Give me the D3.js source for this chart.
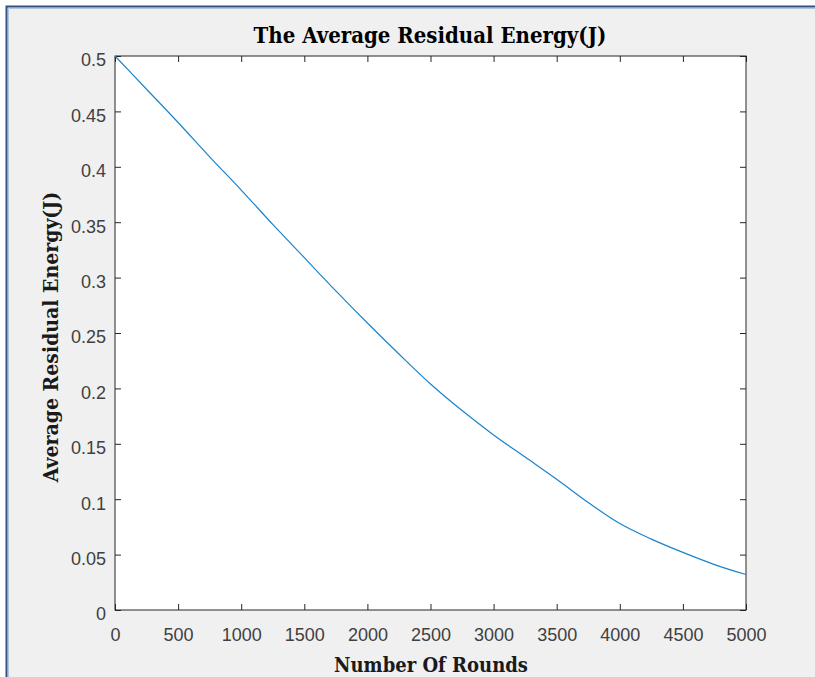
<!DOCTYPE html>
<html>
<head>
<meta charset="utf-8">
<script src="https://cdn.jsdelivr.net/npm/d3@7"></script>
<style>
  body { margin: 0; background: #fff; }
  svg { display: block; }
</style>
</head>
<body>
<div id="chart"></div>
<script>
// data
const rounds = [0, 250, 500, 750, 1000, 1250, 1500, 1750, 2000, 2250, 2500,
  2750, 3000, 3250, 3500, 3750, 4000, 4250, 4500, 4750, 5000];
const energy = [0.5, 0.470, 0.440, 0.409, 0.379, 0.348, 0.318, 0.288, 0.259, 0.231, 0.204,
  0.180, 0.158, 0.138, 0.118, 0.097, 0.078, 0.064, 0.052, 0.041, 0.032];
const xTicks = [0, 500, 1000, 1500, 2000, 2500, 3000, 3500, 4000, 4500, 5000];
const yTicks = [0, 0.05, 0.1, 0.15, 0.2, 0.25, 0.3, 0.35, 0.4, 0.45, 0.5];

const W = 815, H = 677;
const m = {left: 115, top: 56, right: 746, bottom: 610};

const svg = d3.select('#chart').append('svg').attr('width', W).attr('height', H);

// figure background + window frame
svg.append('rect').attr('x', 6).attr('y', 6).attr('width', W - 6).attr('height', H - 6)
  .attr('fill', '#f0f0f0');
svg.append('path').attr('d', `M6.5,${H} V6.5 H${W}`)
  .attr('fill', 'none').attr('stroke', '#2f5283').attr('stroke-width', 2);
svg.append('path').attr('d', `M8.5,${H} V8.5 H${W}`)
  .attr('fill', 'none').attr('stroke', '#b4c4d8').attr('stroke-width', 1);

const x = d3.scaleLinear().domain([0, 5000]).range([m.left, m.right]);
const y = d3.scaleLinear().domain([0, 0.5]).range([m.bottom, m.top]);

svg.append('rect').attr('x', m.left).attr('y', m.top)
  .attr('width', m.right - m.left).attr('height', m.bottom - m.top).attr('fill', '#fff');

const axColor = '#262626';
const tickFont = '"Liberation Sans", Arial, sans-serif';

function styleAxis(g) {
  g.select('.domain').remove();
  g.selectAll('.tick line').attr('stroke', axColor);
  g.selectAll('.tick text').attr('fill', '#404040')
    .style('font-family', tickFont).style('font-size', '18px');
}

// inward ticks on all four sides
svg.append('g').attr('transform', `translate(0,${m.bottom})`)
  .call(d3.axisBottom(x).tickValues(xTicks).tickSize(-6).tickPadding(18).tickFormat(d3.format('d')))
  .call(styleAxis);
svg.append('g').attr('transform', `translate(0,${m.top})`)
  .call(d3.axisTop(x).tickValues(xTicks).tickSize(-6).tickFormat(''))
  .call(styleAxis);
svg.append('g').attr('transform', `translate(${m.left},0)`)
  .call(d3.axisLeft(y).tickValues(yTicks).tickSize(-6).tickPadding(9).tickFormat(d => d3.format('')(+d.toFixed(2))))
  .call(styleAxis)
  .selectAll('.tick text').attr('dy', '0.55em');
svg.append('g').attr('transform', `translate(${m.right},0)`)
  .call(d3.axisRight(y).tickValues(yTicks).tickSize(-6).tickFormat(''))
  .call(styleAxis);

// box
svg.append('rect').attr('x', m.left).attr('y', m.top)
  .attr('width', m.right - m.left).attr('height', m.bottom - m.top)
  .attr('fill', 'none').attr('stroke', axColor).attr('stroke-width', 1);

// the series
const line = d3.line().x((d, i) => x(rounds[i])).y(d => y(d)).curve(d3.curveMonotoneX);
svg.append('path').datum(energy)
  .attr('d', line)
  .attr('fill', 'none').attr('stroke', '#1a84cc').attr('stroke-width', 1.2);

// texts
const serif = '"DejaVu Serif Condensed", "DejaVu Serif", serif';
svg.append('text').attr('x', 430).attr('y', 43)
  .attr('text-anchor', 'middle').attr('font-family', serif).attr('font-weight', 'bold')
  .attr('font-size', 22).attr('fill', '#000')
  .text('The Average Residual Energy(J)');
svg.append('text').attr('x', 431).attr('y', 672)
  .attr('text-anchor', 'middle').attr('font-family', serif).attr('font-weight', 'bold')
  .attr('font-size', 20).attr('fill', '#1a1a1a')
  .text('Number Of Rounds');
svg.append('text').attr('transform', `translate(58,${(m.top + m.bottom) / 2 + 4}) rotate(-90)`)
  .attr('text-anchor', 'middle').attr('font-family', serif).attr('font-weight', 'bold')
  .attr('font-size', 21).attr('fill', '#1a1a1a')
  .text('Average Residual Energy(J)');
</script>
</body>
</html>
